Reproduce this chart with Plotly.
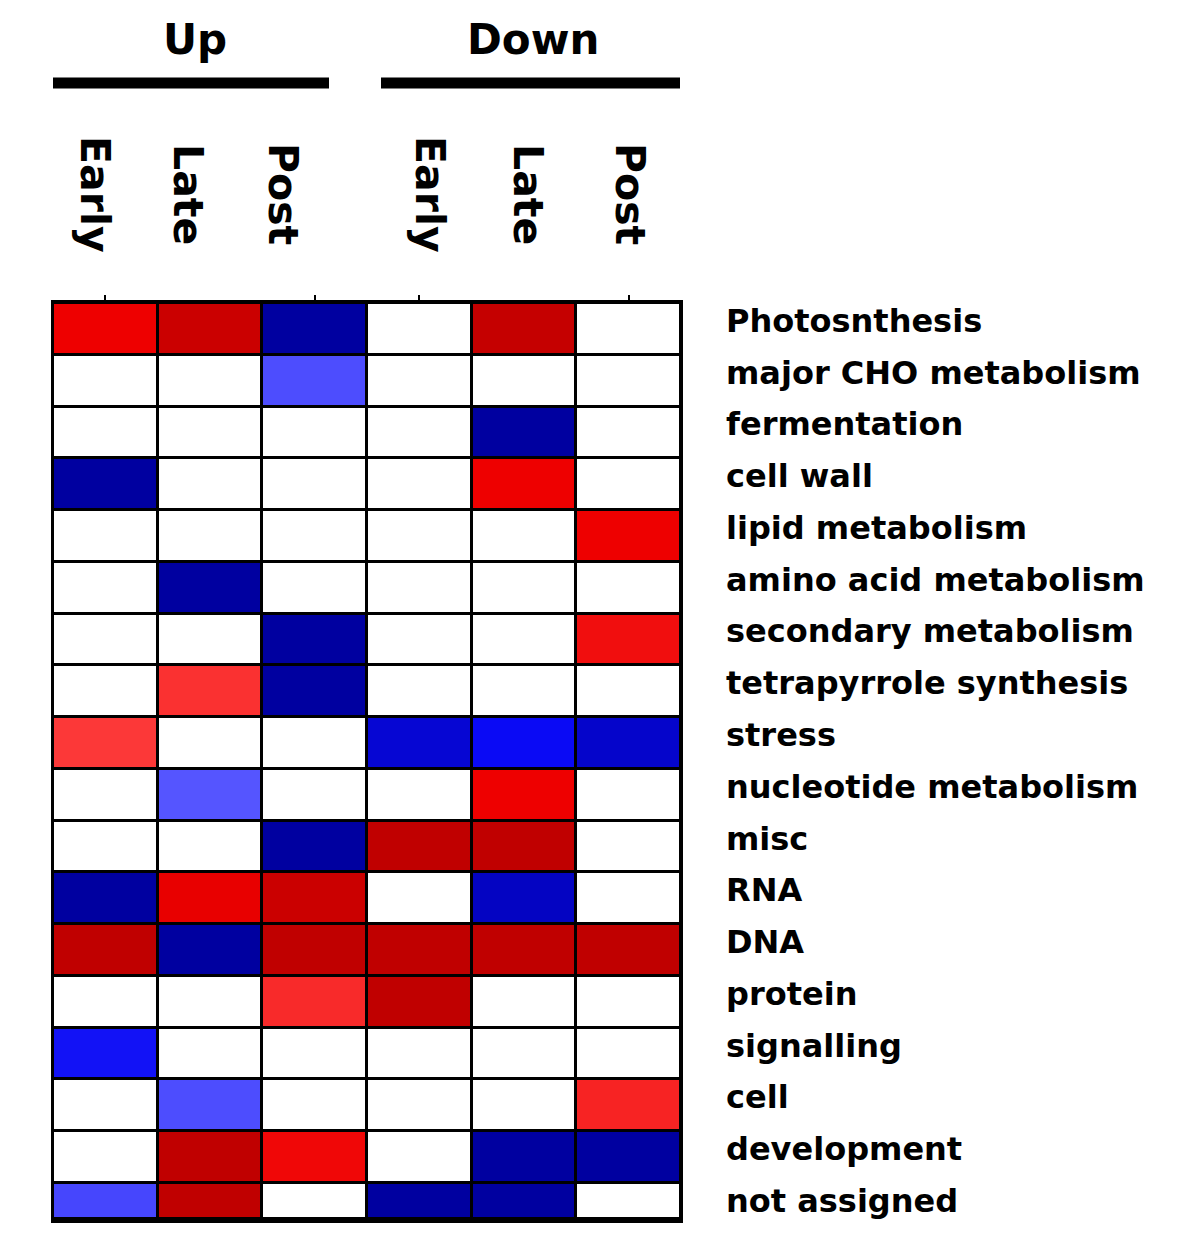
import plotly.graph_objects as go

columns = ["Up Early", "Up Late", "Up Post", "Down Early", "Down Late", "Down Post"]
column_labels = ["Early", "Late", "Post", "Early", "Late", "Post"]
groups = ["Up", "Down"]
categories = [
    "Photosnthesis", "major CHO metabolism", "fermentation", "cell wall",
    "lipid metabolism", "amino acid metabolism", "secondary metabolism",
    "tetrapyrrole synthesis", "stress", "nucleotide metabolism", "misc",
    "RNA", "DNA", "protein", "signalling", "cell", "development", "not assigned",
]

up_early   = [2.0, 0, 0, -3, 0, 0, 0, 0, 1.2, 0, 0, -3, 2.8, 0, -1.9, 0, 0, -1.2]
up_late    = [2.6, 0, 0, 0, 0, -3, 0, 1.3, 0, -1.0, 0, 2.1, -3, 0, 0, -1.1, 2.8, 2.8]
up_post    = [-3, -1.1, 0, 0, 0, 0, -3, -3, 0, 0, -3, 2.6, 2.8, 1.4, 0, 0, 1.9, 0]
down_early = [0, 0, 0, 0, 0, 0, 0, 0, -2.4, 0, 2.8, 0, 2.8, 2.8, 0, 0, 0, -3]
down_late  = [2.7, 0, -3, 2.0, 0, 0, 0, 0, -2.0, 2.0, 2.8, -2.6, 2.8, 0, 0, 0, -3, -3]
down_post  = [0, 0, 0, 0, 2.0, 0, 1.8, 0, -2.5, 0, 0, 0, 2.8, 0, 0, 1.5, -3, 0]

series = [up_early, up_late, up_post, down_early, down_late, down_post]
z = [[s[i] for s in series] for i in range(len(categories))]

colorscale = [
    [0.0, "rgb(0,0,160)"],
    [1/6, "rgb(10,10,245)"],
    [2/6, "rgb(85,85,255)"],
    [0.5, "rgb(255,255,255)"],
    [4/6, "rgb(255,70,70)"],
    [5/6, "rgb(238,0,0)"],
    [1.0, "rgb(180,0,0)"],
]

OFF = 8  # default page body margin
W, H = 1200 - 2 * OFF, 1256 - 2 * OFF


def px_x(p):
    return (p - OFF) / W


def px_y(p):
    return 1 - (p - OFF) / H


x0, x1 = px_x(53), px_x(681)
y0, y1 = px_y(1220), px_y(303)

fig = go.Figure(go.Heatmap(
    z=z, x=list(range(len(columns))), y=list(range(len(categories))),
    colorscale=colorscale, zmin=-3, zmax=3, showscale=False,
    xgap=3, ygap=3, hoverinfo="skip",
))

FONT = "DejaVu Sans"
annotations = []
for i, name in enumerate(categories):
    annotations.append(dict(
        x=px_x(724), xref="paper", y=i, yref="y", yshift=8,
        text=f"<b>{name}</b>", showarrow=False, xanchor="left", yanchor="middle",
        font=dict(family=FONT, size=32, color="black"),
    ))

label_px = [95, 188, 283, 430, 528, 630]
for lbl, px in zip(column_labels, label_px):
    annotations.append(dict(
        x=px_x(px), xref="paper", y=px_y(194), yref="paper",
        text=f"<b>{lbl}</b>", showarrow=False, textangle=90,
        xanchor="center", yanchor="middle",
        font=dict(family=FONT, size=41, color="black"),
    ))

group_px = [195, 533]
for g, px in zip(groups, group_px):
    annotations.append(dict(
        x=px_x(px), xref="paper", y=px_y(40), yref="paper",
        text=f"<b>{g}</b>", showarrow=False, xanchor="center", yanchor="middle",
        font=dict(family=FONT, size=42, color="black"),
    ))

shapes = [
    dict(type="line", xref="paper", yref="paper", x0=px_x(53), x1=px_x(329),
         y0=px_y(83), y1=px_y(83), line=dict(color="black", width=11)),
    dict(type="line", xref="paper", yref="paper", x0=px_x(381), x1=px_x(680),
         y0=px_y(83), y1=px_y(83), line=dict(color="black", width=11)),
    dict(type="line", xref="paper", yref="paper", x0=x0, x1=x1,
         y0=y0, y1=y0, line=dict(color="black", width=6)),
]

fig.update_layout(
    width=W, height=H,
    margin=dict(l=0, r=0, t=0, b=0),
    paper_bgcolor="white", plot_bgcolor="black",
    annotations=annotations, shapes=shapes,
    xaxis=dict(domain=[x0, x1], range=[-0.5, 5.5], side="top",
               tickvals=[0, 2, 3, 5], ticktext=["", "", "", ""],
               ticks="outside", ticklen=5, tickwidth=2, tickcolor="black",
               showgrid=False, zeroline=False,
               showline=True, linecolor="black", linewidth=3, mirror=True),
    yaxis=dict(domain=[y0, y1], range=[17.215, -0.5], showticklabels=False,
               ticks="", showgrid=False, zeroline=False,
               showline=True, linecolor="black", linewidth=2, mirror=True),
)

fig.write_html("out.html")
